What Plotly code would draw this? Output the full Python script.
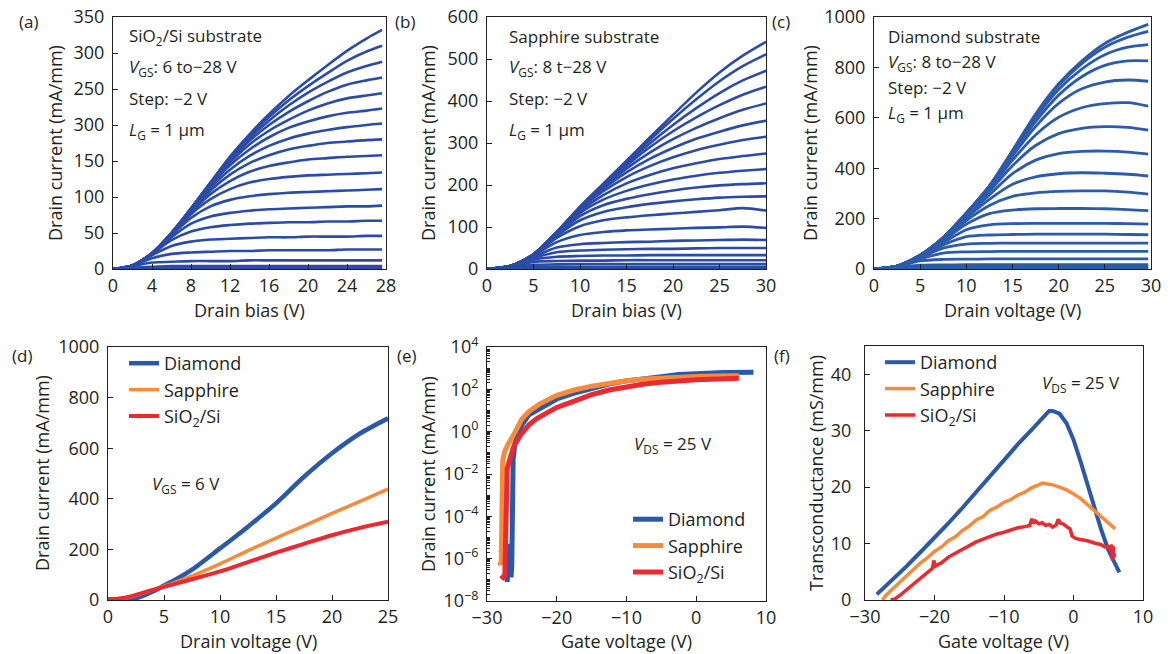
import plotly.graph_objects as go

W, H = 1170, 654

# ---------------- data ----------------
# (a) SiO2/Si substrate, output curves
XA = [0, 2, 4, 6, 8, 10, 12, 14, 16, 18, 20, 22, 24, 26, 27.6]
IA = [
    [0, 5, 22, 50, 84, 120, 156, 187, 215, 240, 262, 283, 303, 320, 332],
    [0, 5, 22, 50, 84, 120, 155, 185, 211, 234, 254, 272, 289, 302, 310],
    [0, 5, 22, 50, 84, 119, 153, 182, 206, 227, 245, 260, 273, 282, 288],
    [0, 5, 22, 50, 84, 119, 151, 178, 200, 218, 233, 246, 256, 262, 266],
    [0, 5, 22, 50, 83, 117, 148, 173, 192, 207, 220, 230, 237, 241, 244],
    [0, 5, 22, 50, 83, 116, 144, 166, 183, 196, 205, 212, 217, 220, 223],
    [0, 5, 22, 50, 82, 113, 138, 157, 171, 181, 188, 193, 197, 200, 202],
    [0, 5, 22, 49, 81, 109, 131, 147, 158, 166, 171, 175, 177, 179, 180],
    [0, 5, 22, 49, 79, 104, 122, 135, 143, 148, 152, 154, 156, 157, 158],
    [0, 5, 22, 48, 76, 97, 111, 120, 125, 128, 130, 131, 132, 133, 134],
    [0, 5, 21, 47, 71, 87, 96, 101, 104, 106, 107, 108, 109, 110, 111],
    [0, 5, 21, 44, 63, 73, 78, 81, 83, 84, 85, 86, 87, 87, 88],
    [0, 5, 21, 40, 52, 58, 61, 63, 64, 65, 65, 66, 66, 67, 67],
    [0, 5, 19, 32, 38, 41, 42, 43, 44, 44, 45, 45, 45, 46, 46],
    [0, 5, 15, 21, 23, 24, 25, 25, 26, 26, 26, 26, 27, 27, 27],
    [0, 4, 9, 10, 11, 11, 11, 12, 12, 12, 12, 12, 12, 12, 12],
    [0, 2, 3, 4, 4, 4, 4, 4, 4, 4, 4, 4, 4, 4, 4],
    [0, 1, 1, 1, 1, 1, 1, 1, 1, 1, 1, 1, 1, 1, 1],
]
YA_TICKS = [0, 50, 100, 150, 200, 250, 300, 350]
YA_TEXT = ["0", "50", "100", "150", "300", "250", "300", "350"]

# (b) Sapphire substrate
XB = [0, 2.5, 5, 7.5, 10, 12.5, 15, 17.5, 20, 22.5, 25, 27.5, 30]
IB = [
    [0, 7, 35, 88, 148, 203, 258, 313, 367, 420, 468, 508, 541],
    [0, 7, 35, 88, 148, 202, 255, 307, 357, 404, 447, 483, 511],
    [0, 7, 35, 88, 147, 200, 251, 299, 343, 383, 419, 449, 472],
    [0, 7, 35, 88, 147, 198, 246, 290, 328, 361, 390, 415, 434],
    [0, 7, 35, 87, 145, 195, 239, 277, 309, 336, 359, 379, 394],
    [0, 7, 35, 87, 144, 191, 230, 262, 288, 310, 327, 342, 353],
    [0, 7, 35, 86, 142, 185, 219, 245, 266, 283, 296, 307, 315],
    [0, 7, 35, 85, 138, 176, 204, 224, 240, 252, 262, 269, 275],
    [0, 7, 35, 84, 133, 165, 186, 201, 213, 222, 229, 234, 238],
    [0, 7, 34, 82, 126, 152, 167, 178, 187, 194, 199, 202, 204],
    [0, 7, 34, 79, 116, 136, 147, 155, 161, 166, 170, 172, 173],
    [0, 7, 33, 74, 102, 116, 123, 128, 132, 136, 140, 145, 139],
    [0, 7, 32, 64, 81, 88, 92, 94, 96, 98, 99, 101, 98],
    [0, 6, 29, 51, 59, 62, 64, 65, 67, 68, 69, 70, 69],
    [0, 6, 26, 40, 44, 46, 47, 48, 48, 49, 50, 50, 50],
    [0, 6, 22, 29, 31, 32, 32, 33, 33, 33, 33, 33, 33],
    [0, 5, 17, 19, 20, 20, 21, 21, 21, 21, 21, 21, 21],
    [0, 4, 10, 11, 12, 12, 12, 12, 12, 12, 12, 12, 12],
    [0, 3, 5, 5, 5, 5, 5, 5, 5, 5, 5, 5, 5],
    [0, 1, 1, 1, 1, 1, 1, 1, 1, 1, 1, 1, 1],
]

# (c) Diamond substrate
XC = [0, 2.5, 5, 7.5, 10, 12.5, 15, 17.5, 20, 22.5, 25, 27.5, 29.7]
IC = [
    [0, 12, 55, 125, 222, 330, 470, 615, 735, 825, 895, 940, 971],
    [0, 12, 55, 125, 222, 330, 468, 610, 728, 815, 880, 920, 943],
    [0, 12, 55, 125, 222, 329, 464, 600, 712, 793, 850, 880, 890],
    [0, 12, 55, 125, 221, 327, 458, 585, 690, 763, 808, 826, 826],
    [0, 12, 55, 125, 220, 323, 448, 565, 657, 715, 742, 750, 745],
    [0, 12, 55, 124, 218, 317, 432, 532, 602, 640, 656, 660, 646],
    [0, 12, 55, 124, 215, 308, 410, 490, 537, 558, 565, 562, 551],
    [0, 12, 54, 122, 210, 294, 378, 432, 458, 467, 468, 464, 456],
    [0, 12, 54, 120, 202, 276, 336, 366, 378, 382, 380, 376, 369],
    [0, 12, 53, 117, 192, 252, 288, 302, 308, 310, 310, 305, 297],
    [0, 12, 52, 112, 178, 220, 234, 239, 240, 240, 239, 236, 232],
    [0, 11, 50, 104, 156, 175, 180, 181, 181, 181, 181, 180, 178],
    [0, 11, 48, 95, 128, 135, 137, 138, 138, 138, 138, 137, 136],
    [0, 11, 45, 83, 99, 102, 103, 103, 103, 103, 103, 103, 103],
    [0, 10, 40, 63, 68, 69, 70, 70, 70, 70, 70, 70, 70],
    [0, 9, 32, 38, 39, 40, 40, 40, 40, 40, 40, 40, 40],
    [0, 7, 15, 16, 17, 17, 17, 17, 17, 17, 17, 17, 17],
    [0, 5, 7, 8, 8, 8, 8, 8, 8, 8, 8, 8, 8],
    [0, 2, 3, 3, 3, 3, 3, 3, 3, 3, 3, 3, 3],
]

# (d) V_GS = 6 V comparison
XD = [0, 1, 2, 3, 4, 5, 6, 7.5, 10, 12.5, 15, 17.5, 20, 22.5, 25]
D_DIA = [3, 1, 2, 14, 34, 57, 80, 120, 204, 290, 382, 487, 580, 658, 718]
D_SAP = [3, 5, 12, 25, 40, 55, 70, 95, 143, 195, 245, 293, 342, 390, 438]
D_SIO = [3, 6, 14, 27, 40, 52, 64, 82, 113, 150, 187, 222, 256, 285, 309]

# (e) transfer curves, V_DS = 25 V (log scale)
XE_DIA = [-28.2, -27.9, -27.6, -27.4, -27.25, -27.1, -26.95, -26.85, -26.7, -26.55,
          -26.45, -26.35, -26.25, -26.0, -25.5, -25.0, -24.0, -22.5, -20.0, -17.5,
          -15.0, -12.5, -10.0, -7.5, -5.0, -2.5, 0.0, 4.0, 8.2]
E_DIA = [2.8e-6, 2.5e-6, 3.2e-6, 7e-6, 3.2e-7, 8e-8, 5e-6, 1.3e-7, 1.6e-6, 1.3e-7,
         5e-7, 3.2e-4, 0.05, 0.28, 0.9, 2.1, 6.3, 12.6, 35, 66,
         112, 178, 251, 331, 398, 501, 575, 631, 646]
XE_SAP = [-28.2, -28.05, -27.95, -27.9, -27.85, -27.75, -27.5, -27.0, -26.0, -25.0,
          -24.0, -22.5, -20.0, -17.5, -15.0, -12.5, -10.0, -7.5, -5.0, -2.5, 0.0, 3.0, 6.1]
E_SAP = [7e-7, 5e-7, 1e-6, 3.2e-5, 3.2e-3, 0.04, 0.11, 0.25, 0.9, 4.0,
         8.9, 20, 52, 93, 141, 200, 257, 309, 347, 380, 407, 427, 437]
XE_SIO = [-28.0, -27.7, -27.45, -27.38, -27.32, -27.25, -27.1, -26.9, -26.2, -25.2,
          -24.0, -22.8, -20.0, -17.5, -15.0, -12.5, -10.0, -7.5, -5.0, -2.5, 0.0, 3.0, 6.1]
E_SIO = [1.6e-7, 1.3e-7, 1.6e-7, 1e-5, 1e-3, 8e-3, 0.018, 0.032, 0.19, 0.69,
         2.1, 4.3, 14, 28, 56, 93, 135, 178, 214, 251, 282, 309, 331]
YE_TICKS = [1e-8, 1e-6, 1e-4, 1e-2, 1, 1e2, 1e4]
YE_TEXT = ["10<sup>−8</sup>", "10<sup>−6</sup>", "10<sup>−4</sup>", "10<sup>−2</sup>",
           "10<sup>0</sup>", "10<sup>2</sup>", "10<sup>4</sup>"]
YE_MINOR = [m * 10.0 ** k for k in range(-8, 4) for m in range(2, 10)] + [1e-7, 1e-5, 1e-3, 1e-1, 1e1, 1e3]

# (f) transconductance, V_DS = 25 V
XF_DIA = [-28.3, -26, -24, -22, -20, -18, -16, -14, -12, -10, -8, -6, -5, -4, -3.5,
          -3, -2, -1, 0, 1, 2, 3, 4, 5, 6, 6.6]
F_DIA = [1.0, 3.6, 6.0, 8.5, 11.0, 13.6, 16.3, 19.1, 22.0, 24.9, 27.6, 30.2, 31.5, 33.0,
         33.5, 33.5, 33.0, 31.3, 28.4, 24.6, 20.5, 16.3, 12.4, 8.9, 6.2, 4.9]
XF_SAP = [-27.5, -27, -26, -25, -24, -23, -22, -21, -20, -19, -18, -17, -16, -15, -14,
          -13, -12, -11, -10, -9, -8, -7, -6, -5, -4.5, -4, -3, -2, -1, 0, 1, 2, 3, 4, 5, 6]
F_SAP = [0, 0.8, 2.0, 3.2, 4.4, 5.5, 6.6, 7.5, 8.6, 9.4, 10.5, 11.2, 12.3, 13.1, 14.2,
         14.8, 15.9, 16.5, 17.3, 17.8, 18.6, 19.1, 19.9, 20.4, 20.7, 20.6, 20.4, 20.0, 19.5,
         18.8, 18.0, 16.9, 15.8, 14.6, 13.5, 12.6]
XF_SIO = [-26.3, -25.7, -25, -24, -23, -22, -21, -20.3, -20.1, -19.9, -19, -18, -17, -16,
          -15, -14, -13, -12, -11, -10, -9, -8, -7, -6.3, -6, -5.8, -5.5, -5, -4.5, -4,
          -3.5, -3, -2.5, -2.2, -1.9, -1.5, -1, -0.5, -0.2, 0.3, 1, 2, 3, 4, 4.5, 5, 5.3,
          5.5, 5.6, 5.7, 5.8, 5.9]
F_SIO = [0, 0.2, 0.8, 1.8, 2.8, 3.8, 4.8, 5.6, 7.0, 6.0, 6.6, 7.6, 8.3, 9.0,
         9.7, 10.3, 10.8, 11.3, 11.7, 12.0, 12.4, 12.8, 13.0, 13.2, 14.4, 13.6, 14.0, 13.5,
         13.7, 13.2, 13.4, 12.9, 13.3, 14.3, 13.6, 13.5, 13.0, 12.6, 11.3, 10.9, 10.7, 10.5,
         10.1, 9.8, 9.4, 9.5, 8.9, 9.8, 7.0, 9.5, 7.5, 8.3]

SERIES = ["Diamond", "Sapphire", "SiO<sub>2</sub>/Si"]

# ---------------- style ----------------
FONT = "Open Sans"
TXT = "#231f20"
BLUE_A = "#2b4ba6"
BLUE_C = "#2d5aa9"
BLUE = "#2c58a8"
ORANGE = "#f68b3c"
RED = "#ec2830"


def px_x(p):
    return p / W


def px_y(p):
    return 1 - p / H


def axis(domain, rng, anchor, dtick=None, **kw):
    d = dict(
        domain=domain, range=rng, anchor=anchor, automargin=False,
        showline=True, mirror=True, linecolor=TXT, linewidth=1,
        ticks="inside", ticklen=5, tickwidth=1, tickcolor=TXT,
        showgrid=False, zeroline=False,
        tickfont=dict(family=FONT, size=18, color=TXT),
        fixedrange=True,
    )
    if dtick is not None:
        d["dtick"] = dtick
        d["tick0"] = 0
    d.update(kw)
    return d


fig = go.Figure()

# panel (a)
for ys in IA:
    fig.add_trace(go.Scatter(x=XA, y=ys, mode="lines", xaxis="x", yaxis="y",
                             line=dict(color=BLUE_A, width=2.6, shape="spline", smoothing=0.8),
                             showlegend=False, hoverinfo="skip"))
# panel (b)
for ys in IB:
    fig.add_trace(go.Scatter(x=XB, y=ys, mode="lines", xaxis="x2", yaxis="y2",
                             line=dict(color=BLUE_A, width=2.6, shape="spline", smoothing=0.8),
                             showlegend=False, hoverinfo="skip"))
# panel (c)
for ys in IC:
    fig.add_trace(go.Scatter(x=XC, y=ys, mode="lines", xaxis="x3", yaxis="y3",
                             line=dict(color=BLUE_C, width=2.8, shape="spline", smoothing=0.8),
                             showlegend=False, hoverinfo="skip"))

# panel (d)
for ys, col, w, nm in [(D_DIA, BLUE, 4.5, SERIES[0]), (D_SAP, ORANGE, 3.5, SERIES[1]),
                       (D_SIO, RED, 4, SERIES[2])]:
    fig.add_trace(go.Scatter(x=XD, y=ys, mode="lines", xaxis="x4", yaxis="y4", name=nm,
                             line=dict(color=col, width=w, shape="spline", smoothing=0.8),
                             legend="legend", hoverinfo="skip"))
# panel (e)
for xs, ys, col, nm in [(XE_DIA, E_DIA, BLUE, SERIES[0]), (XE_SAP, E_SAP, ORANGE, SERIES[1]),
                        (XE_SIO, E_SIO, RED, SERIES[2])]:
    fig.add_trace(go.Scatter(x=xs, y=ys, mode="lines", xaxis="x5", yaxis="y5", name=nm,
                             line=dict(color=col, width=5),
                             legend="legend2", hoverinfo="skip"))
# panel (f)
for xs, ys, col, w, nm in [(XF_DIA, F_DIA, BLUE, 4, SERIES[0]), (XF_SAP, F_SAP, ORANGE, 3.5, SERIES[1]),
                           (XF_SIO, F_SIO, RED, 3.5, SERIES[2])]:
    fig.add_trace(go.Scatter(x=xs, y=ys, mode="lines", xaxis="x6", yaxis="y6", name=nm,
                             line=dict(color=col, width=w),
                             legend="legend3", hoverinfo="skip"))

top = [px_y(269), px_y(17)]
bot = [px_y(600), px_y(347)]
YSO = 4  # y tick label standoff

layout = dict(
    width=W, height=H, margin=dict(l=0, r=0, t=0, b=0, autoexpand=False),
    paper_bgcolor="white", plot_bgcolor="white",
    font=dict(family=FONT, size=18, color=TXT),
    xaxis=axis([px_x(113), px_x(386)], [0, 28], "y", 4),
    yaxis=axis(top, [0, 350], "x", ticklabelstandoff=YSO,
               tickmode="array", tickvals=YA_TICKS, ticktext=YA_TEXT),
    xaxis2=axis([px_x(487), px_x(766)], [0, 30], "y2", 5),
    yaxis2=axis(top, [0, 600], "x2", 100, ticklabelstandoff=YSO),
    xaxis3=axis([px_x(874), px_x(1151)], [0, 30], "y3", 5),
    yaxis3=axis(top, [0, 1000], "x3", 200, ticklabelstandoff=YSO),
    xaxis4=axis([px_x(108), px_x(388)], [0, 25], "y4", 5),
    yaxis4=axis(bot, [0, 1000], "x4", 200, ticklabelstandoff=YSO),
    xaxis5=axis([px_x(487), px_x(766)], [-30, 10], "y5", 10),
    yaxis5=axis([px_y(601), px_y(347)], [-8, 4], "x5", ticklabelstandoff=YSO,
                type="log", tickmode="array", tickvals=YE_TICKS, ticktext=YE_TEXT,
                minor=dict(tickmode="array", tickvals=YE_MINOR, ticks="inside", ticklen=3,
                           tickcolor=TXT, showgrid=False)),
    xaxis6=axis([px_x(865), px_x(1143)], [-30, 10], "y6", 10),
    yaxis6=axis([px_y(600), px_y(346)], [0, 45], "x6", 10, ticklabelstandoff=9),
    legend=dict(x=px_x(124), y=px_y(345), xanchor="left", yanchor="top",
                bgcolor="rgba(0,0,0,0)", font=dict(family=FONT, size=18, color=TXT),
                tracegroupgap=0),
    legend2=dict(x=px_x(628), y=px_y(501), xanchor="left", yanchor="top",
                 bgcolor="rgba(0,0,0,0)", font=dict(family=FONT, size=18, color=TXT),
                 tracegroupgap=0),
    legend3=dict(x=px_x(880), y=px_y(344), xanchor="left", yanchor="top",
                 bgcolor="rgba(0,0,0,0)", font=dict(family=FONT, size=18, color=TXT),
                 tracegroupgap=0),
)
fig.update_layout(**layout)

# axis titles (placed as text at pixel positions)
xtitles = [((113 + 386) / 2, 310, "Drain bias (V)"),
           ((487 + 766) / 2, 310, "Drain bias (V)"),
           ((874 + 1151) / 2, 310, "Drain voltage (V)"),
           ((108 + 388) / 2, 641, "Drain voltage (V)"),
           ((487 + 766) / 2, 641, "Gate voltage (V)"),
           ((865 + 1143) / 2, 641, "Gate voltage (V)")]
for x, y, t in xtitles:
    fig.add_annotation(x=px_x(x), y=px_y(y), xref="paper", yref="paper", text=t,
                       showarrow=False, xanchor="center", yanchor="middle",
                       font=dict(family=FONT, size=18, color=TXT))
ytitles = [(55, 143, "Drain current (mA/mm)"),
           (428, 143, "Drain current (mA/mm)"),
           (810, 143, "Drain current (mA/mm)"),
           (42, 473, "Drain current (mA/mm)"),
           (428, 474, "Drain current (mA/mm)"),
           (816, 473, "Transconductance (mS/mm)")]
for x, y, t in ytitles:
    fig.add_annotation(x=px_x(x), y=px_y(y), xref="paper", yref="paper", text=t,
                       showarrow=False, xanchor="center", yanchor="middle", textangle=-90,
                       font=dict(family=FONT, size=18, color=TXT))

notes = [
    (127, 37, "SiO<sub>2</sub>/Si substrate"),
    (127, 68, "<i>V</i><sub>GS</sub>: 6 to−28 V"),
    (127, 99, "Step: −2 V"),
    (127, 130, "<i>L</i><sub>G</sub> = 1 μm"),
    (507, 37, "Sapphire substrate"),
    (507, 68, "<i>V</i><sub>GS</sub>: 8 t−28 V"),
    (507, 99, "Step: −2 V"),
    (507, 130, "<i>L</i><sub>G</sub> = 1 μm"),
    (886, 37, "Diamond substrate"),
    (886, 62, "<i>V</i><sub>GS</sub>: 8 to−28 V"),
    (886, 88, "Step: −2 V"),
    (886, 113, "<i>L</i><sub>G</sub> = 1 μm"),
    (150, 484, "<i>V</i><sub>GS</sub> = 6 V"),
    (632, 444, "<i>V</i><sub>DS</sub> = 25 V"),
    (1040, 383, "<i>V</i><sub>DS</sub> = 25 V"),
]
for x, y, t in notes:
    fig.add_annotation(x=px_x(x), y=px_y(y), xref="paper", yref="paper", text=t,
                       showarrow=False, xanchor="left", yanchor="middle",
                       font=dict(family=FONT, size=17, color=TXT))

labels = [(17, 22, "(a)"), (393, 22, "(b)"), (770, 22, "(c)"),
          (10, 355, "(d)"), (395, 355, "(e)"), (772, 355, "(f)")]
for x, y, t in labels:
    fig.add_annotation(x=px_x(x), y=px_y(y), xref="paper", yref="paper", text=t,
                       showarrow=False, xanchor="left", yanchor="middle",
                       font=dict(family=FONT, size=17, color=TXT))

fig.write_html("out.html", config={"displayModeBar": False})
